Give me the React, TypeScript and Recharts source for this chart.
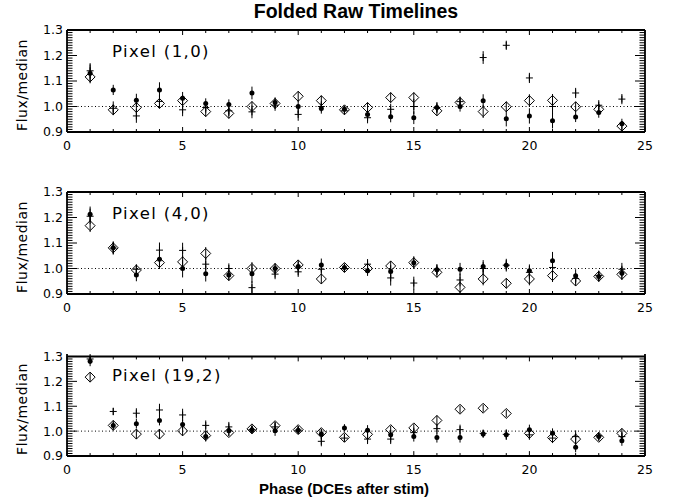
import React from 'react';
import { ScatterChart, Scatter, XAxis, YAxis, ErrorBar, ReferenceLine } from 'recharts';

// ---------------- data ----------------
const TITLE = 'Folded Raw Timelines';
const X_LABEL = 'Phase (DCEs after stim)';
const Y_LABEL = 'Flux/median';
const PANEL_LABELS = ['Pixel (1,0)', 'Pixel (4,0)', 'Pixel (19,2)'];

const PHASES = [1, 2, 3, 4, 5, 6, 7, 8, 9, 10, 11, 12, 13, 14, 15, 16, 17, 18, 19, 20, 21, 22, 23, 24];
const X_TICKS = [0, 1, 2, 3, 4, 5, 6, 7, 8, 9, 10, 11, 12, 13, 14, 15, 16, 17, 18, 19, 20, 21, 22, 23, 24, 25];
const X_TICK_LABELS = ['0', '5', '10', '15', '20', '25'];
const Y_MAJOR_TICKS = [0.9, 1.0, 1.1, 1.2, 1.3];
const Y_MINOR_TICKS = Array.from({ length: 41 }, (_, i) => Math.round((0.9 + i * 0.01) * 100) / 100);

// Pixel (1,0)
const P1_CIRCLE = [1.130, 1.065, 1.025, 1.065, 1.032, 1.012, 1.008, 1.053, 1.016, 1.000, 0.992, 0.989, 0.969, 0.960, 0.956, 0.996, 1.000, 1.023, 0.952, 0.963, 0.944, 0.959, 0.976, 0.932];
const P1_DIAMOND = [1.116, 0.987, 0.996, 1.012, 1.023, 0.980, 0.973, 1.000, 1.012, 1.040, 1.023, 0.987, 0.996, 1.035, 1.035, 0.983, 1.016, 0.980, 0.999, 1.023, 1.024, 0.999, 0.989, 0.923];
const P1_CROSS = [1.140, 0.993, 0.963, 1.020, 0.987, 0.996, 0.983, 0.979, 1.005, 0.969, 1.000, 0.983, 0.956, 0.989, 1.000, 0.996, 1.019, 1.192, 1.240, 1.112, 1.000, 1.053, 1.005, 1.029];
const P1_CIRCLE_ERR = [0.035, 0.020, 0.025, 0.030, 0.025, 0.020, 0.020, 0.025, 0.020, 0.025, 0.020, 0.015, 0.020, 0.022, 0.025, 0.020, 0.020, 0.025, 0.030, 0.030, 0.030, 0.020, 0.020, 0.020];
const P1_DIAMOND_ERR = [0.025, 0.020, 0.020, 0.020, 0.020, 0.020, 0.020, 0.020, 0.020, 0.020, 0.020, 0.015, 0.020, 0.020, 0.020, 0.020, 0.020, 0.025, 0.020, 0.025, 0.025, 0.020, 0.020, 0.020];
const P1_CROSS_ERR = [0.030, 0.027, 0.027, 0.025, 0.025, 0.020, 0.020, 0.025, 0.022, 0.025, 0.020, 0.015, 0.022, 0.022, 0.030, 0.020, 0.020, 0.025, 0.018, 0.020, 0.030, 0.020, 0.020, 0.020];

// Pixel (4,0)
const P2_CIRCLE = [1.213, 1.081, 0.975, 1.036, 1.000, 0.979, 0.975, 0.979, 1.000, 1.008, 1.014, 1.004, 0.991, 0.988, 1.023, 0.995, 0.997, 1.008, 1.013, 0.991, 1.030, 0.972, 0.969, 0.981];
const P2_DIAMOND = [1.168, 1.081, 0.994, 1.023, 1.026, 1.059, 0.972, 1.000, 1.000, 1.014, 0.959, 1.004, 1.000, 1.010, 1.023, 0.985, 0.926, 0.959, 0.942, 0.959, 0.972, 0.951, 0.969, 0.977];
const P2_CROSS = [1.205, 1.080, 0.997, 1.072, 1.071, 1.017, 1.000, 0.925, 0.978, 0.987, 0.997, 1.000, 1.017, 0.963, 0.943, 0.997, 0.955, 1.000, 1.013, 0.985, 1.004, 0.961, 0.972, 0.997];
const P2_CIRCLE_ERR = [0.030, 0.025, 0.025, 0.030, 0.035, 0.030, 0.020, 0.035, 0.020, 0.020, 0.025, 0.015, 0.020, 0.025, 0.025, 0.020, 0.025, 0.025, 0.025, 0.025, 0.035, 0.025, 0.020, 0.025];
const P2_DIAMOND_ERR = [0.025, 0.020, 0.020, 0.025, 0.025, 0.025, 0.020, 0.025, 0.020, 0.020, 0.020, 0.015, 0.020, 0.020, 0.020, 0.020, 0.020, 0.025, 0.020, 0.025, 0.025, 0.020, 0.020, 0.020];
const P2_CROSS_ERR = [0.030, 0.025, 0.020, 0.030, 0.030, 0.025, 0.020, 0.025, 0.020, 0.020, 0.020, 0.015, 0.020, 0.030, 0.025, 0.020, 0.025, 0.025, 0.020, 0.025, 0.030, 0.020, 0.020, 0.025];

// Pixel (19,2)
const P3_CIRCLE = [1.281, 1.023, 1.030, 1.043, 1.027, 0.978, 1.001, 1.006, 1.001, 1.004, 0.988, 1.013, 1.004, 0.985, 0.978, 0.974, 0.974, 0.988, 0.985, 1.006, 0.991, 0.935, 0.978, 0.961];
const P3_DIAMOND = [1.217, 1.023, 0.988, 0.988, 1.001, 0.982, 0.994, 1.009, 1.022, 1.006, 0.994, 0.975, 0.987, 1.006, 1.013, 1.043, 1.088, 1.092, 1.071, 0.991, 0.974, 0.968, 0.975, 0.991];
const P3_CROSS = [1.290, 1.079, 1.072, 1.085, 1.065, 1.023, 1.017, 1.006, 1.017, 1.004, 0.959, 0.972, 0.968, 0.968, 0.994, 1.010, 1.006, 0.991, 0.987, 0.985, 0.972, 0.978, 0.981, 0.978];
const P3_CIRCLE_ERR = [0.020, 0.020, 0.020, 0.020, 0.020, 0.020, 0.020, 0.015, 0.020, 0.015, 0.020, 0.015, 0.020, 0.020, 0.020, 0.020, 0.020, 0.015, 0.020, 0.020, 0.020, 0.020, 0.015, 0.020];
const P3_DIAMOND_ERR = [0.020, 0.015, 0.020, 0.020, 0.020, 0.020, 0.015, 0.015, 0.015, 0.015, 0.015, 0.015, 0.015, 0.015, 0.015, 0.020, 0.015, 0.015, 0.015, 0.015, 0.015, 0.020, 0.015, 0.020];
const P3_CROSS_ERR = [0.020, 0.015, 0.020, 0.025, 0.025, 0.020, 0.020, 0.015, 0.020, 0.015, 0.020, 0.015, 0.020, 0.020, 0.020, 0.020, 0.020, 0.015, 0.020, 0.020, 0.020, 0.025, 0.015, 0.020];

const PANELS = [
  { label: PANEL_LABELS[0], circle: P1_CIRCLE, circleErr: P1_CIRCLE_ERR, diamond: P1_DIAMOND, diamondErr: P1_DIAMOND_ERR, cross: P1_CROSS, crossErr: P1_CROSS_ERR },
  { label: PANEL_LABELS[1], circle: P2_CIRCLE, circleErr: P2_CIRCLE_ERR, diamond: P2_DIAMOND, diamondErr: P2_DIAMOND_ERR, cross: P2_CROSS, crossErr: P2_CROSS_ERR },
  { label: PANEL_LABELS[2], circle: P3_CIRCLE, circleErr: P3_CIRCLE_ERR, diamond: P3_DIAMOND, diamondErr: P3_DIAMOND_ERR, cross: P3_CROSS, crossErr: P3_CROSS_ERR },
];

// ---------------- layout ----------------
const W = 678;
const H = 502;
const PLOT_LEFT = 67;
const PLOT_RIGHT = 645;
const PLOT_W = PLOT_RIGHT - PLOT_LEFT;
const PLOT_H = 102;
const PANEL_TOPS = [30, 192, 354];
const M_TOP = 28;
const CHART_H = 162;
const X_AXIS_H = 30;
const Y_AXIS_W = 60;
const X_MIN = 0;
const X_MAX = 25;
const Y_MIN = 0.9;
const Y_MAX = 1.3;
const X_UNITS_PER_PX = (X_MAX - X_MIN) / PLOT_W;
const Y_UNITS_PER_PX = (Y_MAX - Y_MIN) / PLOT_H;
const FONT = '"Liberation Sans", Arial, sans-serif';
const THIN = '"DejaVu Sans", sans-serif';

const rows = (vals: number[], errs: number[]) => PHASES.map((p, i) => ({ x: p, y: vals[i], e: errs[i] }));
const isMajorY = (v: number) => Y_MAJOR_TICKS.some((t) => Math.abs(t - v) < 1e-6);
const fmtX = (v: number) => (X_TICK_LABELS.includes(String(v)) ? String(v) : '');
const fmtY = (v: number) => (isMajorY(v) ? v.toFixed(1) : '');

const CircleShape = (props: any) => {
  const { cx, cy } = props;
  if (cx == null || cy == null) return null;
  return <circle cx={cx} cy={cy} r={2.5} fill="#000" />;
};
const DiamondShape = (props: any) => {
  const { cx, cy } = props;
  if (cx == null || cy == null) return null;
  const s = 5;
  return <path d={`M${cx},${cy - s}L${cx + s},${cy}L${cx},${cy + s}L${cx - s},${cy}Z`} fill="none" stroke="#000" strokeWidth={1} />;
};
const CrossShape = (props: any) => {
  const { cx, cy } = props;
  if (cx == null || cy == null) return null;
  const s = 3.5;
  return (
    <g>
      <line x1={cx - s} y1={cy} x2={cx + s} y2={cy} stroke="#000" strokeWidth={1} />
      <line x1={cx} y1={cy - s} x2={cx} y2={cy + s} stroke="#000" strokeWidth={1} />
    </g>
  );
};

// frame + inward tick marks drawn through the chart scales (segments in data units)
const frameAndTicks = () => {
  const out: any[] = [];
  out.push(<ReferenceLine key="fb" y={Y_MIN} stroke="#000" strokeWidth={1.8} ifOverflow="visible" />);
  out.push(<ReferenceLine key="ft" y={Y_MAX} stroke="#000" strokeWidth={1.8} ifOverflow="visible" />);
  out.push(<ReferenceLine key="fl" x={X_MIN} stroke="#000" strokeWidth={1.8} ifOverflow="visible" />);
  out.push(<ReferenceLine key="fr" x={X_MAX} stroke="#000" strokeWidth={1.8} ifOverflow="visible" />);
  X_TICKS.forEach((t) => {
    const len = (t % 5 === 0 ? 5 : 3) * Y_UNITS_PER_PX;
    out.push(<ReferenceLine key={`xb${t}`} segment={[{ x: t, y: Y_MIN }, { x: t, y: Y_MIN + len }]} stroke="#000" strokeWidth={1} ifOverflow="visible" />);
    out.push(<ReferenceLine key={`xt${t}`} segment={[{ x: t, y: Y_MAX }, { x: t, y: Y_MAX - len }]} stroke="#000" strokeWidth={1} ifOverflow="visible" />);
  });
  Y_MINOR_TICKS.forEach((t) => {
    const len = (isMajorY(t) ? 10 : 5.5) * X_UNITS_PER_PX;
    out.push(<ReferenceLine key={`yl${t}`} segment={[{ x: X_MIN, y: t }, { x: X_MIN + len, y: t }]} stroke="#000" strokeWidth={1} ifOverflow="visible" />);
    out.push(<ReferenceLine key={`yr${t}`} segment={[{ x: X_MAX, y: t }, { x: X_MAX - len, y: t }]} stroke="#000" strokeWidth={1} ifOverflow="visible" />);
  });
  return out;
};

const Panel = ({ panel }: { panel: typeof PANELS[number] }) => (
  <ScatterChart
    width={W}
    height={CHART_H}
    margin={{ top: M_TOP, right: W - PLOT_RIGHT, bottom: CHART_H - M_TOP - PLOT_H - X_AXIS_H, left: PLOT_LEFT - Y_AXIS_W }}
  >
    <XAxis
      type="number"
      dataKey="x"
      domain={[X_MIN, X_MAX]}
      ticks={X_TICKS}
      interval={0}
      height={X_AXIS_H}
      tickLine={false}
      tickSize={0}
      tickMargin={9}
      axisLine={false}
      tickFormatter={fmtX}
      tick={{ fill: '#000', fontSize: 12.5, fontFamily: THIN }}
    />
    <YAxis
      type="number"
      dataKey="y"
      domain={[Y_MIN, Y_MAX]}
      ticks={Y_MINOR_TICKS}
      interval={0}
      width={Y_AXIS_W}
      tickLine={false}
      tickSize={0}
      tickMargin={4}
      axisLine={false}
      tickFormatter={fmtY}
      tick={{ fill: '#000', fontSize: 12.5, fontFamily: THIN }}
    />
    <ReferenceLine y={1} stroke="#000" strokeWidth={1} strokeDasharray="1 2.5" />
    {frameAndTicks()}
    <Scatter data={rows(panel.diamond, panel.diamondErr)} shape={DiamondShape} isAnimationActive={false}>
      <ErrorBar dataKey="e" direction="y" width={0} stroke="#000" strokeWidth={1} isAnimationActive={false} />
    </Scatter>
    <Scatter data={rows(panel.cross, panel.crossErr)} shape={CrossShape} isAnimationActive={false}>
      <ErrorBar dataKey="e" direction="y" width={0} stroke="#000" strokeWidth={1} isAnimationActive={false} />
    </Scatter>
    <Scatter data={rows(panel.circle, panel.circleErr)} shape={CircleShape} isAnimationActive={false}>
      <ErrorBar dataKey="e" direction="y" width={0} stroke="#000" strokeWidth={1} isAnimationActive={false} />
    </Scatter>
  </ScatterChart>
);

export default function App() {
  return (
    <div style={{ position: 'absolute', left: 0, top: 0, width: W, height: H, background: '#fff', overflow: 'hidden' }}>
      {PANELS.map((p, i) => (
        <div key={i} style={{ position: 'absolute', left: 0, top: PANEL_TOPS[i] - M_TOP, width: W, height: CHART_H }}>
          <Panel panel={p} />
        </div>
      ))}
      <svg width={W} height={H} style={{ position: 'absolute', left: 0, top: 0, pointerEvents: 'none' }}>
        <text x={356} y={18} textAnchor="middle" fontFamily={FONT} fontWeight="bold" fontSize={19.5} fill="#000">{TITLE}</text>
        <text x={344} y={493.5} textAnchor="middle" fontFamily={FONT} fontWeight="bold" fontSize={15} fill="#000">{X_LABEL}</text>
        {PANELS.map((p, i) => (
          <g key={i}>
            <text x={112} y={PANEL_TOPS[i] + 27} fontFamily={THIN} fontSize={16.5} letterSpacing={1.4} fill="#000">{p.label}</text>
            <text
              transform={`translate(27, ${PANEL_TOPS[i] + PLOT_H / 2 + 4}) rotate(-90)`}
              textAnchor="middle"
              fontFamily={THIN}
              fontSize={14}
              letterSpacing={0.5}
              fill="#000"
            >{Y_LABEL}</text>
          </g>
        ))}
      </svg>
    </div>
  );
}
